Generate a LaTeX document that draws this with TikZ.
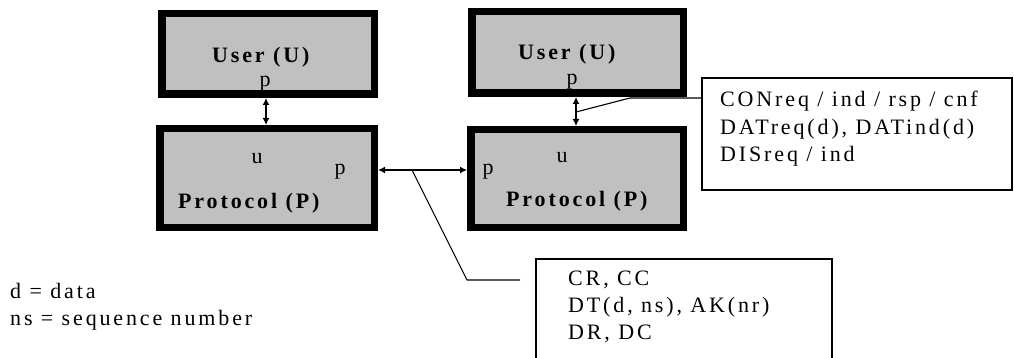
\documentclass[tikz,border=0pt]{standalone}
\usepackage{fontspec}
\setmainfont{Liberation Serif}[LetterSpace=13]
\usetikzlibrary{arrows.meta}
\definecolor{boxgray}{HTML}{C0C0C0}

\begin{document}
\begin{tikzpicture}[x=1pt,y=-1pt,
  blk/.style={draw=black, line width=7.5pt, fill=boxgray, inner sep=0pt},
  lbl/.style={anchor=base, inner sep=0pt, font=\fontsize{22}{27}\selectfont},
  ttl/.style={anchor=base west, inner sep=0pt, font=\fontsize{22}{27}\selectfont\bfseries},
  txt/.style={anchor=base west, inner sep=0pt, font=\fontsize{22}{27}\selectfont},
  link/.style={draw=black, line width=1.4pt, {Latex[length=7pt,width=7pt]}-{Latex[length=7pt,width=7pt]}},
  lead/.style={draw=black, line width=1.1pt},
  frame/.style={draw=black, line width=1.2pt}
]
\useasboundingbox (0,0) rectangle (1014,358);

% the two user/protocol stacks
\node[blk, minimum width=212.5pt, minimum height=80.5pt] (uL) at (268,54) {};
\node[blk, minimum width=214.5pt, minimum height=98.5pt] (pL) at (267,178) {};
\node[blk, minimum width=211.5pt, minimum height=81.5pt] (uR) at (577.5,52.5) {};
\node[blk, minimum width=212.5pt, minimum height=97.5pt] (pR) at (577,178.5) {};

% box titles and service access points
\node[ttl] (tuL) at (212,63) {User (U)};
\node[ttl] (tuR) at (518,60) {User (U)};
\node[ttl] (tpL) at (178,208) {Protocol (P)};
\node[ttl] (tpR) at (506,207) {Protocol (P)};
\node[lbl] (puL) at (265,87) {p};
\node[lbl] (puR) at (572,85) {p};
\node[lbl] (upL) at (257,164) {u};
\node[lbl] (upR) at (562,163) {u};
\node[lbl] (ppL) at (340,175) {p};
\node[lbl] (ppR) at (488,175) {p};

% interfaces
\coordinate (xL) at (266,0);
\coordinate (xR) at (576,0);
\coordinate (hy) at (0,170);
\draw[link] (uL.south -| xL) -- (pL.north -| xL);
\draw[link] (uR.south -| xR) -- (pR.north -| xR);
\draw[link] (pL.east |- hy) -- (pR.west |- hy);

% service primitives
\coordinate (ubNW) at (702,78);
\coordinate (ubSE) at (1012,190);
\draw[frame] (ubNW) rectangle (ubSE);
\node[txt] (c1) at (720,107) {CONreq / ind / rsp / cnf};
\node[txt] (c2) at (720,135) {DATreq(d), DATind(d)};
\node[txt] (c3) at (720,162) {DISreq / ind};
\coordinate (tapU) at (xR |- 0,112);
\coordinate (kneeU) at (630,98);
\draw[lead] (ubNW |- kneeU) -- (kneeU) -- (tapU);

% protocol data units
\coordinate (lbNW) at (536,259);
\coordinate (lbNE) at (832,259);
\draw[frame] (lbNW |- 0,364) -- (lbNW) -- (lbNE) -- (lbNE |- 0,364);
\node[txt] (d1) at (568,285) {CR, CC};
\node[txt] (d2) at (568,312) {DT(d, ns), AK(nr)};
\node[txt] (d3) at (568,339) {DR, DC};
\coordinate (tapL) at (412,170);
\coordinate (kneeL) at (467,280);
\coordinate (endL) at (520,280);
\draw[lead] (tapL) -- (kneeL) -- (endL);

% legend
\node[txt] (g1) at (10,298) {d = data};
\node[txt] (g2) at (10,325) {ns = sequence number};
\end{tikzpicture}
\end{document}
